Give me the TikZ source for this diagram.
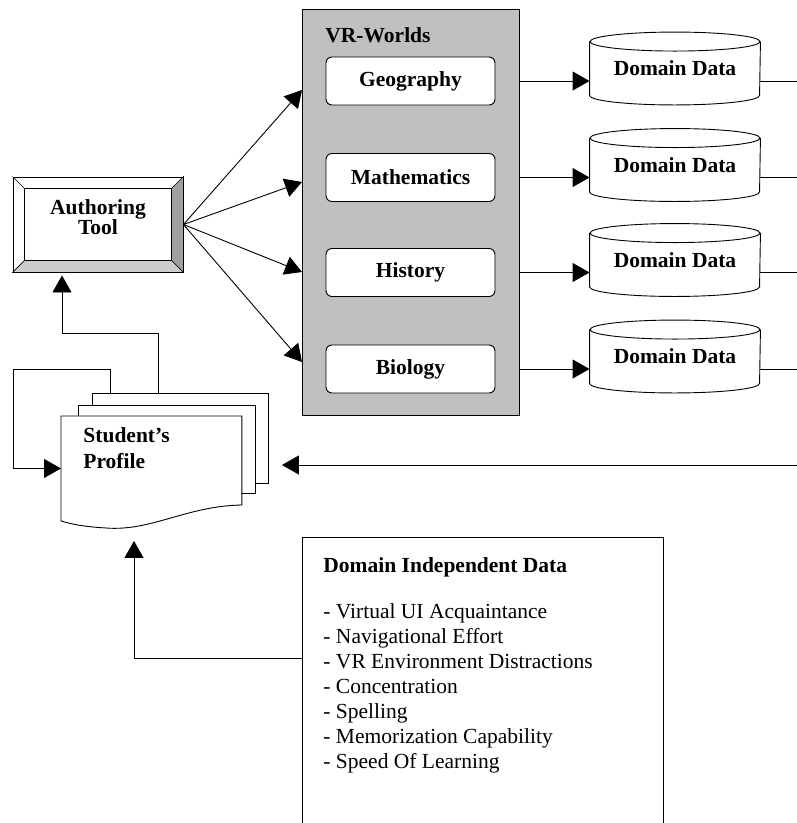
\documentclass[tikz,border=0pt]{standalone}
\usepackage{fontspec}
\setmainfont{Liberation Serif}
\usetikzlibrary{arrows.meta,calc,positioning}
\definecolor{vrgray}{RGB}{192,192,192}
\definecolor{bevdark}{RGB}{160,160,160}
\definecolor{bevlight}{RGB}{204,204,204}

\begin{document}
\begin{tikzpicture}[x=1pt,y=1pt,line width=0.9pt,
  arr/.style={-{Triangle[length=17pt,width=19pt]}},
  lbl/.style={font=\fontsize{21.5}{17}\selectfont\bfseries},
  world/.style={draw,fill=white,rounded corners=6pt,minimum width=169pt,minimum height=48pt,inner sep=0pt,lbl},
  dbase/.style={minimum width=170pt,minimum height=72pt,inner sep=0pt,lbl},
  page/.style={draw,fill=white,anchor=north west,inner sep=0pt}]
  \useasboundingbox (0,0) rectangle (797,-823);
  \clip (0,0) rectangle (797,-823);

  % authoring tool, bevelled frame
  \node[draw,minimum width=170pt,minimum height=95pt,inner sep=0pt] (auth) at (98,-224.5) {};
  \filldraw[fill=bevdark,line width=0.6pt] (auth.north east) -- (auth.south east) -- ($(auth.south east)+(-12,12)$) -- ($(auth.north east)+(-12,-12)$) -- cycle;
  \filldraw[fill=bevlight,line width=0.6pt] (auth.south west) -- (auth.south east) -- ($(auth.south east)+(-12,12)$) -- ($(auth.south west)+(12,12)$) -- cycle;
  \draw[line width=0.6pt] (auth.north west) -- ++(12,-12) (auth.south west) -- ++(12,12);
  \draw ($(auth.north west)+(12,-12)$) rectangle ($(auth.south east)+(-12,12)$);
  \node[lbl,align=center] (authtxt) at (98,-217) {Authoring\\Tool};

  % VR worlds
  \node[draw,fill=vrgray,minimum width=217pt,minimum height=406pt,inner sep=0pt] (vr) at (410.5,-212) {};
  \node[lbl,anchor=base west,inner sep=0pt] (vrtxt) at (325,-42) {VR-Worlds};
  \node[world] (geo) at (410.5,-81) {Geography};
  \node[world] (math) at (410.5,-177.5) {Mathematics};
  \node[world] (hist) at (410.5,-272.5) {History};
  \node[world] (bio) at (410.5,-369) {Biology};

  \coordinate (in1) at (302,-90);
  \coordinate (in2) at (302,-182);
  \coordinate (in3) at (302,-272);
  \coordinate (in4) at (302,-362);
  \draw[arr] (auth.east) -- (in1);
  \draw[arr] (auth.east) -- (in2);
  \draw[arr] (auth.east) -- (in3);
  \draw[arr] (auth.east) -- (in4);

  % domain data stores
  \node[dbase] (dd1) at (675,-68.5) {Domain Data};
  \node[dbase] (dd2) at (675,-165) {Domain Data};
  \node[dbase] (dd3) at (675,-260) {Domain Data};
  \node[dbase] (dd4) at (675,-356.5) {Domain Data};
  \foreach \c in {dd1,dd2,dd3,dd4}{
    \draw ($(\c.north)+(0,-9.5)$) ellipse (85 and 9.5);
    \draw ($(\c.north west)+(0,-9.5)$) -- ($(\c.south west)+(0,9.5)$) arc (180:360:85 and 9.5) -- ($(\c.north east)+(0,-9.5)$);
  }

  \coordinate (edge) at (797,0);
  \draw[arr] (geo.east -| vr.east) -- (geo -| dd1.west);
  \draw[arr] (math.east -| vr.east) -- (math -| dd2.west);
  \draw[arr] (hist.east -| vr.east) -- (hist -| dd3.west);
  \draw[arr] (bio.east -| vr.east) -- (bio -| dd4.west);
  \draw (geo -| dd1.east) -- (geo -| edge);
  \draw (math -| dd2.east) -- (math -| edge);
  \draw (hist -| dd3.east) -- (hist -| edge);
  \draw (bio -| dd4.east) -- (bio -| edge);

  % student's profile
  \node[page,minimum width=176pt,minimum height=90pt] (prof3) at (92,-393) {};
  \node[page,minimum width=177pt,minimum height=88pt] (prof2) at (78,-405) {};
  \node[anchor=north west,minimum width=180pt,minimum height=104pt,inner sep=0pt] (prof) at (61,-416) {};
  \filldraw[fill=white] (prof.north west) -- (prof.north east) -- ($(prof.north east)+(0,-89)$)
    .. controls ($(prof.south west)+(125,15)$) and ($(prof.south west)+(90,-11)$) .. ($(prof.south west)+(44,-7)$)
    .. controls ($(prof.south west)+(24,-6)$) and ($(prof.south west)+(9,-3)$) .. (prof.south west) -- cycle;
  \node[lbl,font=\fontsize{21.5}{26}\selectfont\bfseries,align=left,anchor=north west,inner sep=0pt] (proftxt) at (83,-427) {Student’s\\Profile};

  \coordinate (loop) at (13,-369);
  \draw[arr] ([xshift=18pt]prof3.north west) |- (loop) |- (prof.west);
  \coordinate (up) at (62,-333);
  \draw[arr,shorten >=3pt] ([xshift=66pt]prof3.north west) |- (up) -- (up |- auth.south);
  \coordinate (ret) at (797,-465);
  \draw[arr,shorten >=13pt] (ret) -- (ret -| prof3.east);

  % domain independent data
  \node[draw,anchor=north west,minimum width=361pt,minimum height=400pt,inner sep=0pt] (did) at (302,-537) {};
  \node[anchor=north west,align=left,inner sep=0pt,font=\fontsize{21.5}{25}\selectfont] (didtxt) at (323,-557)
    {{\bfseries Domain Independent Data}\\[21pt]
     - Virtual UI Acquaintance\\
     - Navigational Effort\\
     - VR Environment Distractions\\
     - Concentration\\
     - Spelling\\
     - Memorization Capability\\
     - Speed Of Learning};
  \draw[arr] ([yshift=-121pt]did.north west) -| ([xshift=73pt,yshift=-20pt]prof.south west);
\end{tikzpicture}
\end{document}
